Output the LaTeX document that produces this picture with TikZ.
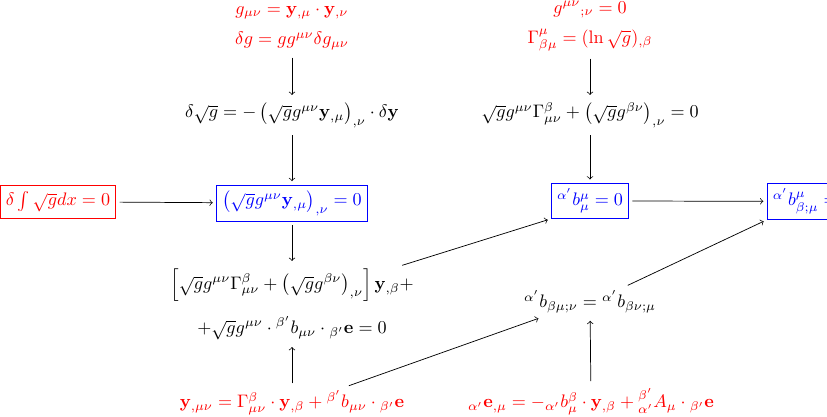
\documentclass[tikz,border=0pt]{standalone}
\usepackage{amsmath}
\usetikzlibrary{positioning, arrows}

\begin{document}
\begin{tikzpicture}[x=0.552pt, y=-0.552pt, >=to, inner sep=2pt,
	given/.style={text=red, align=center},
	eqn/.style={align=center},
	goal/.style={draw=red, text=red, inner xsep=3pt, inner ysep=3.3pt},
	result/.style={draw=blue, text=blue, inner xsep=3pt, inner ysep=3pt}]
	\useasboundingbox (0,0) rectangle (827,417);
	\node (metric) [given] at (292,28) {$g_{\mu\nu}=\mathbf{y}_{,\mu}\cdot\mathbf{y}_{,\nu}$\\[5pt]$\delta g=gg^{\mu\nu}\delta g_{\mu\nu}$};
	\node (dsqrtg) [eqn, anchor=base] at (292,118) {$\delta\sqrt{g}=-\left(\sqrt{g}g^{\mu\nu}\mathbf{y}_{,\mu}\right)_{,\nu}\cdot\delta\mathbf{y}$};
	\node (action) [goal, anchor=base] at (58,206) {$\delta\int\sqrt{g}dx=0$};
	\node (minsurf) [result, anchor=base] at (292,206) {$\left(\sqrt{g}g^{\mu\nu}\mathbf{y}_{,\mu}\right)_{,\nu}=0$};
	\node (gauss) [eqn] at (292,304) {$\left[\sqrt{g}g^{\mu\nu}\Gamma^{\beta}_{\mu\nu}+\left(\sqrt{g}g^{\beta\nu}\right)_{,\nu}\right]\mathbf{y}_{,\beta}+$\\[7.3pt]$+\sqrt{g}g^{\mu\nu}\cdot{}^{\beta'}b_{\mu\nu}\cdot{}_{\beta'}\mathbf{e}=0$};
	\node (gaussweing) [given, anchor=base] at (292,408) {$\mathbf{y}_{,\mu\nu}=\Gamma^{\beta}_{\mu\nu}\cdot\mathbf{y}_{,\beta}+{}^{\beta'}b_{\mu\nu}\cdot{}_{\beta'}\mathbf{e}$};

	\node (divmetric) [given] at (590,26) {$g^{\mu\nu}{}_{;\nu}=0$\\[4.6pt]$\Gamma^{\mu}_{\beta\mu}=(\ln\sqrt{g})_{,\beta}$};
	\node (christ) [eqn, anchor=base] at (590,118) {$\sqrt{g}g^{\mu\nu}\Gamma^{\beta}_{\mu\nu}+\left(\sqrt{g}g^{\beta\nu}\right)_{,\nu}=0$};
	\node (meancurv) [result, anchor=base] at (590,206) {${}^{\alpha'}b^{\mu}_{\mu}=0$};
	\node (codazzi) [eqn, anchor=base] at (590,308) {${}^{\alpha'}b_{\beta\mu;\nu}={}^{\alpha'}b_{\beta\nu;\mu}$};
	\node (weing) [given, anchor=base] at (591,408) {${}_{\alpha'}\mathbf{e}_{,\mu}=-{}_{\alpha'}b^{\beta}_{\mu}\cdot\mathbf{y}_{,\beta}+{}^{\beta'}_{\alpha'}A_{\mu}\cdot{}_{\beta'}\mathbf{e}$};
	\node (divcurv) [result, anchor=base west] at (767,206) {${}^{\alpha'}b^{\mu}_{\beta;\mu}=0$};

	\path[->, shorten >=2pt, shorten <=2pt]
		(metric) edge (dsqrtg)
		(dsqrtg) edge (minsurf)
		(action) edge (minsurf)
		(minsurf) edge (gauss)
		(gaussweing) edge (gauss)
		([xshift=29.5pt]gaussweing.north) edge ([xshift=12pt]codazzi.south west)
		([xshift=-10.5pt,yshift=-1pt]gauss.north east) edge (meancurv.south west)
		(divmetric) edge (christ)
		(christ) edge (meancurv)
		(meancurv) edge (divcurv)
		(weing) edge (codazzi)
		([xshift=19pt]codazzi.north) edge (divcurv.south west)
	;
\end{tikzpicture}
\end{document}
